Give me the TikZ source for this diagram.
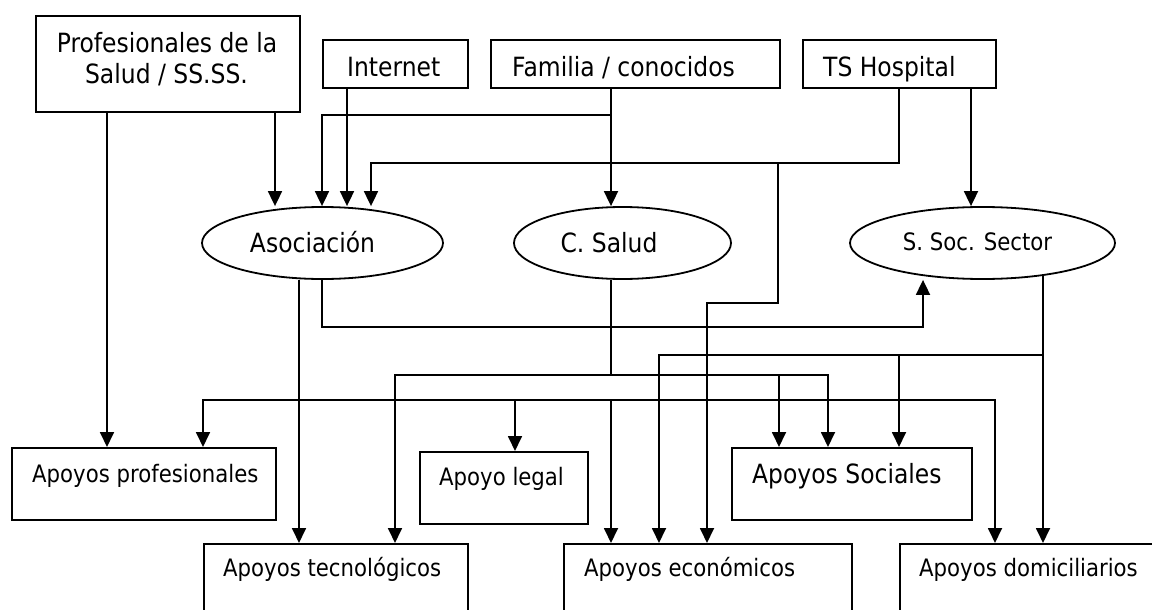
\documentclass[tikz,border=0pt]{standalone}
\usepackage{fontspec}
\setmainfont{DejaVu Sans}[FakeStretch=0.885]
\usetikzlibrary{arrows.meta,shapes.geometric,calc}
\begin{document}
\begin{tikzpicture}[x=1pt,y=-1pt,
  ln/.style={line width=1.8pt, black},
  arr/.style={ln, -{Triangle[length=15pt,width=14pt]}},
  box/.style={draw, line width=1.8pt, inner sep=0pt, anchor=north west},
  oval/.style={draw, ellipse, line width=1.8pt, inner sep=0pt},
  big/.style={font=\fontsize{26.5}{30}\selectfont, inner sep=0pt},
  small/.style={font=\fontsize{24}{28}\selectfont, inner sep=0pt},
]
\useasboundingbox (0,0) rectangle (1152,610);
\clip (0,0) rectangle (1152,610);
% top boxes
\node[box, minimum width=264pt, minimum height=96pt] (prof) at (35,15) {};
\node[box, minimum width=145pt, minimum height=48pt] (int) at (322,39) {};
\node[box, minimum width=289pt, minimum height=48pt] (fam) at (490,39) {};
\node[box, minimum width=193pt, minimum height=48pt] (ts) at (802,39) {};
% ellipses
\node[oval, minimum width=241pt, minimum height=72pt] (asoc) at (322.5,243) {};
\node[oval, minimum width=217pt, minimum height=72pt] (csal) at (622.5,243) {};
\node[oval, minimum width=265pt, minimum height=72pt] (ssoc) at (982.5,243) {};
% lower boxes
\node[box, minimum width=264pt, minimum height=72pt] (aprof) at (11,447) {};
\node[box, minimum width=168pt, minimum height=72pt] (aleg) at (419,451) {};
\node[box, minimum width=240pt, minimum height=72pt] (apsoc) at (731,447) {};
\node[box, minimum width=264pt, minimum height=100pt] (atec) at (203,543) {};
\node[box, minimum width=288pt, minimum height=100pt] (aecon) at (563,543) {};
\node[box, minimum width=300pt, minimum height=100pt] (adom) at (899,543) {};
% texts
\node[big, anchor=base] (profa) at (167,53) {Profesionales de la};
\node[big, anchor=base] (profb) at (166.5,84) {Salud / SS.SS.};
\node[big, anchor=base west] (tint) at (347,77) {Internet};
\node[big, anchor=base west] (tfam) at (512,77) {Familia / conocidos};
\node[big, anchor=base west] (tts) at (823,77) {TS Hospital};
\node[big, anchor=base] (tasoc) at (312.5,252) {Asociación};
\node[big, anchor=base] (tcsal) at (609,252) {C. Salud};
\node[small, anchor=base] (tssoc) at (977.5,250) {S. Soc. Sector};
\node[small, anchor=base west] (tprof) at (32,482) {Apoyos profesionales};
\node[small, anchor=base west] (tleg) at (439,485) {Apoyo legal};
\node[big, anchor=base west] (tsoc) at (752,483) {Apoyos Sociales};
\node[small, anchor=base west] (ttec) at (223,576) {Apoyos tecnológicos};
\node[small, anchor=base west] (teco) at (584,576) {Apoyos económicos};
\node[small, anchor=base west] (tdom) at (919,576) {Apoyos domiciliarios};
% connectors from top boxes
\draw[arr] (107,0 |- prof.south) -- (107,0 |- aprof.north);
\draw[arr] (275,0 |- prof.south) -- (275,0 |- asoc.north);
\draw[arr] (347,0 |- int.south) -- (347,0 |- asoc.north);
\draw[arr] (611,0 |- fam.south) -- (611,0 |- csal.north);
\draw[arr] (611,0 |- fam.south) |- (322,115) -- (322,0 |- asoc.north);
\draw[arr] (899,0 |- ts.south) |- (371,163) -- (371,0 |- asoc.north);
\draw[arr] (899,0 |- ts.south) |- (778,163) |- (707,303) -- (707,0 |- aecon.north);
\draw[arr] (971,0 |- ts.south) -- (971,0 |- ssoc.north);
% from Asociacion
\draw[arr] (299,0 |- asoc.south) -- (299,0 |- atec.north);
\draw[arr] (322,0 |- asoc.south) |- (923,327) -- (923,0 |- ssoc.south);
\draw[arr] (299,0 |- asoc.south) |- (203,400) -- (203,0 |- aprof.north);
\draw[arr] (299,0 |- asoc.south) |- (515,400) -- (515,0 |- aleg.north);
\draw[arr] (299,0 |- asoc.south) |- (611,400) -- (611,0 |- aecon.north);
\draw[arr] (299,0 |- asoc.south) |- (995,400) -- (995,0 |- adom.north);
% from C. Salud
\draw[arr] (611,0 |- csal.south) |- (395,375) -- (395,0 |- atec.north);
\draw[arr] (611,0 |- csal.south) |- (779,375) -- (779,0 |- apsoc.north);
\draw[arr] (611,0 |- csal.south) |- (828,375) -- (828,0 |- apsoc.north);
% from S. Soc. Sector
\draw[arr] ($(1043,0 |- ssoc.south)+(0,-4)$) -- (1043,0 |- adom.north);
\draw[arr] ($(1043,0 |- ssoc.south)+(0,-4)$) |- (659,355) -- (659,0 |- aecon.north);
\draw[arr] ($(1043,0 |- ssoc.south)+(0,-4)$) |- (899,355) -- (899,0 |- apsoc.north);
\end{tikzpicture}
\end{document}
